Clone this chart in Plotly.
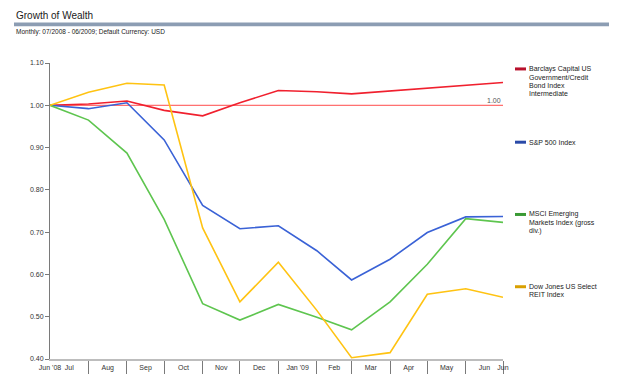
import plotly.graph_objects as go
import pandas as pd

# ---------------- data ----------------
dates = ["2008-06-30", "2008-07-31", "2008-08-31", "2008-09-30", "2008-10-31",
         "2008-11-30", "2008-12-31", "2009-01-31", "2009-02-28", "2009-03-31",
         "2009-04-30", "2009-05-31", "2009-06-30"]

barclays = [1.000, 1.003, 1.010, 0.988, 0.975, 1.006, 1.035, 1.032, 1.027, 1.034, 1.040, 1.046, 1.054]
sp500    = [1.000, 0.992, 1.006, 0.918, 0.763, 0.708, 0.715, 0.656, 0.587, 0.636, 0.699, 0.736, 0.737]
msci     = [1.000, 0.965, 0.887, 0.730, 0.531, 0.492, 0.529, 0.499, 0.469, 0.535, 0.624, 0.732, 0.723]
reit     = [1.000, 1.031, 1.052, 1.048, 0.710, 0.535, 0.629, 0.515, 0.403, 0.415, 0.553, 0.566, 0.546]

month_labels = ["Jun '08", "Jul", "Aug", "Sep", "Oct", "Nov", "Dec", "Jan '09",
                "Feb", "Mar", "Apr", "May", "Jun", "Jun"]

series_names = [
    ["Barclays Capital US", "Government/Credit", "Bond Index", "Intermediate"],
    ["S&P 500 Index"],
    ["MSCI Emerging", "Markets Index (gross", "div.)"],
    ["Dow Jones US Select", "REIT Index"],
]
line_colors = ["#f0202e", "#3a62d6", "#5ec54f", "#ffc312"]
legend_colors = ["#b8102c", "#2a4aa8", "#3a9a34", "#d9a000"]
series = [barclays, sp500, msci, reit]

title_text = "Growth of Wealth"
subtitle_text = "Monthly: 07/2008 - 06/2009; Default Currency: USD"

# ---------------- geometry helpers ----------------
# the page body has an 8px margin, so the figure starts at (8, 8)
OFF = 8
W, H = 624 - OFF, 384 - OFF
L, T = 50 - OFF, 63 - OFF
PW, PH = 453, 299
R = W - L - PW
B = H - T - PH

def px(xp):
    return (xp - OFF - L) / PW

def py(yp):
    return (H - B - (yp - OFF)) / PH

FONT = "Liberation Sans, Arial, sans-serif"

d = pd.to_datetime(dates)
mids = list(d[:-1] + (d[1:] - d[:-1]) / 2)
tickvals = [d[0]] + mids + [d[-1]]

fig = go.Figure()
for name, vals, col in zip(series_names, series, line_colors):
    fig.add_trace(go.Scatter(x=dates, y=vals, mode="lines", name=" ".join(name),
                             line=dict(color=col, width=1.6), showlegend=False))

shapes = []
annotations = []

# reference line at 1.00
shapes.append(dict(type="line", xref="x", yref="y", x0=dates[0], x1=dates[-1],
                   y0=1.0, y1=1.0, line=dict(color="#ff4a4a", width=1), layer="below"))
annotations.append(dict(xref="x", yref="y", x=dates[-1], y=1.0, text="1.00",
                        showarrow=False, xanchor="right", yanchor="bottom", yshift=-1,
                        font=dict(size=7, color="#555555", family=FONT)))

# header
shapes.append(dict(type="rect", xref="paper", yref="paper", x0=px(14), x1=px(609),
                   y0=py(26), y1=py(22), fillcolor="#8c9db3", line=dict(width=0)))
annotations.append(dict(xref="paper", yref="paper", x=px(14), y=py(15), text=title_text,
                        showarrow=False, xanchor="left", yanchor="middle",
                        font=dict(size=10, color="#1a1a1a", family=FONT)))
annotations.append(dict(xref="paper", yref="paper", x=px(14), y=py(32), text=subtitle_text,
                        showarrow=False, xanchor="left", yanchor="middle",
                        font=dict(size=6.5, color="#222222", family=FONT)))

# legend (right side)
legend_tops = [69, 143, 216, 289]
line_step = 8.3
for lines, col, top in zip(series_names, legend_colors, legend_tops):
    shapes.append(dict(type="line", xref="paper", yref="paper", x0=px(515), x1=px(526),
                       y0=py(top), y1=py(top), line=dict(color=col, width=3)))
    for i, t in enumerate(lines):
        annotations.append(dict(xref="paper", yref="paper", x=px(527), y=py(top + i * line_step),
                                text=t, showarrow=False, xanchor="left", yanchor="middle",
                                font=dict(size=7, color="#222222", family=FONT)))

fig.update_layout(
    width=W, height=H,
    margin=dict(l=L, r=R, t=T, b=B, pad=0),
    paper_bgcolor="white", plot_bgcolor="white",
    font=dict(family=FONT, size=7, color="#333333"),
    shapes=shapes, annotations=annotations,
    xaxis=dict(
        type="date", range=[dates[0], dates[-1]],
        tickmode="array", tickvals=tickvals, ticktext=month_labels,
        ticks="outside", ticklen=1, tickcolor="rgba(0,0,0,0)",
        minor=dict(tickmode="array", tickvals=dates[1:], ticks="outside",
                   ticklen=13, tickcolor="#7a7a7a", tickwidth=1),
        showgrid=False, zeroline=False,
        showline=True, linecolor="#bdbdbd", linewidth=2,
        tickfont=dict(size=7, color="#333333"),
    ),
    yaxis=dict(
        range=[0.40, 1.10], tickmode="linear", tick0=0.4, dtick=0.1,
        tickformat=".2f", ticks="outside", ticklen=4, tickcolor="#7a7a7a",
        showgrid=False, zeroline=False,
        showline=True, linecolor="#7a7a7a", linewidth=1,
        tickfont=dict(size=7, color="#333333"),
    ),
)

fig.write_html("out.html")
